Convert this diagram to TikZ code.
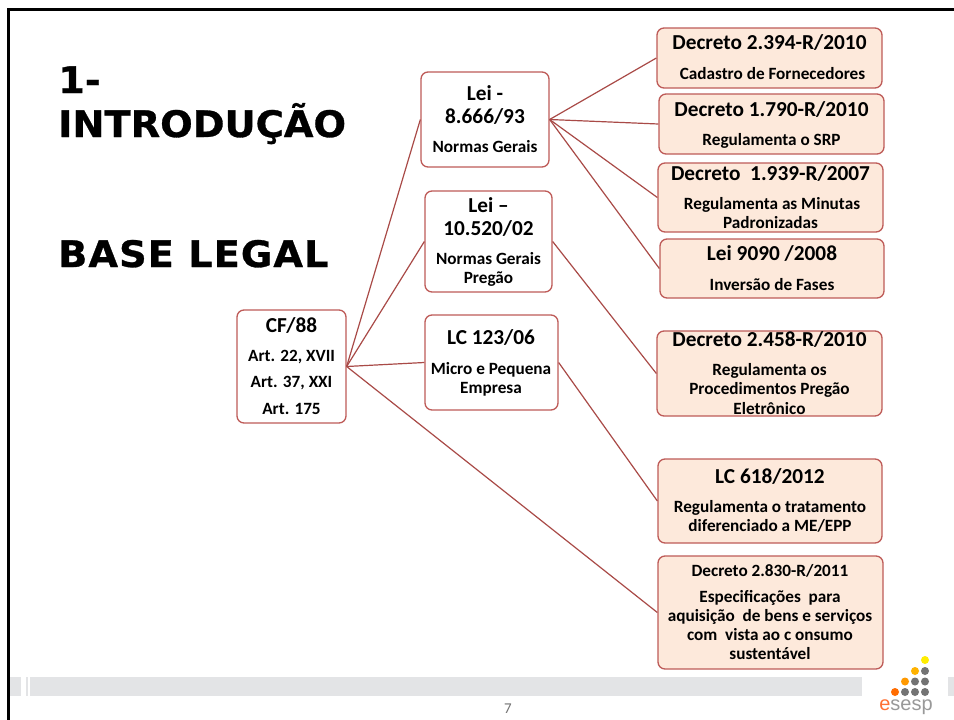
\documentclass[tikz,border=0pt]{standalone}
\usepackage{fontspec}
\setmainfont{Carlito}
\newfontfamily\titlefont[FakeStretch=1.05,FakeBold=0.8]{DejaVu Sans}
\newfontfamily\titlewide[FakeStretch=1.05,FakeBold=0.8,LetterSpace=2.8]{DejaVu Sans}
\newfontfamily\logofont{Liberation Sans}
\definecolor{boxline}{HTML}{BE5B58}
\definecolor{linkline}{HTML}{A94A47}
\definecolor{boxfill}{HTML}{FDE9DB}
\definecolor{barcol}{HTML}{E3E4E6}
\newcommand\Ln[4]{\vskip#1pt\hbox to 400pt{\hss\kern#3pt\kern#3pt\smash{\fontsize{#2}{#2}\selectfont\bfseries #4}\hss}}
\newcommand\Body[2]{\hbox to 0pt{\hss\vtop to 0pt{\hsize=400pt\offinterlineskip\vskip-\dimexpr#1pt/2\relax #2\vss}\hss}}
\tikzset{
  x=1pt,y=-1pt,
  lawbox/.style={draw=boxline,line width=1.3pt,rounded corners=7pt,fill=white,inner sep=0pt},
  decbox/.style={lawbox,fill=boxfill},
  link/.style={draw=linkline,line width=1.2pt},
  slidetitle/.style={inner sep=0pt,anchor=base west,font=\titlefont\bfseries\fontsize{36.5}{36.5}\selectfont,text=black},
  bar/.style={fill=barcol,draw=none},
  dotg/.style={fill=black!55,draw=none},
}
\begin{document}
\begin{tikzpicture}
\useasboundingbox (0,0) rectangle (954,720);
\fill[white] (0,0) rectangle (954,720);
\draw[black,line width=2.6pt] (8.5,720) -- (8.5,9.3) -- (954,9.3);
% footer
\fill[bar] (10,676.5) rectangle (21,695.5);
\fill[bar] (26,676.5) rectangle (28,695.5);
\fill[bar] (30,676.5) rectangle (862,695.5);
\fill[bar] (948,676.5) rectangle (954,695.5);
\node[inner sep=0pt,anchor=base,text=black!55,font=\fontsize{15}{15}\selectfont] (pg) at (508,713.5) {7};
% logo
\fill[yellow!95!orange] (925,660) circle (4);
\fill[orange!60!yellow] (915,671) circle (4);
\fill[dotg] (925,671) circle (4);
\fill[orange!80!yellow] (905,681.5) circle (4);
\fill[dotg] (915,681.5) circle (4);
\fill[dotg] (925,681.5) circle (4);
\fill[orange!85!red] (895,692) circle (4);
\fill[dotg] (905,692) circle (4);
\fill[dotg] (915,692) circle (4);
\fill[dotg] (925,692) circle (4);
\node[inner sep=0pt,anchor=base,font=\logofont\fontsize{20}{20}\selectfont,text=black!40] (logo) at (906,710) {\textcolor{orange!60!red!80}{e}sesp};
% title
\node[slidetitle] (t1) at (58,93) {1-};
\node[slidetitle] (t2) at (58,137) {INTRODUÇÃO};
\node[slidetitle,font=\titlewide\bfseries\fontsize{36.5}{36.5}\selectfont] (t3) at (58,267) {BASE LEGAL};
% boxes
\node[lawbox,minimum width=109pt,minimum height=113pt] (cf) at (291.5,366.5) {\Body{113}{
  \Ln{22}{21.3}{0}{CF/88}\Ln{29}{17.2}{0}{Art. 22, XVII}\Ln{26}{17.2}{0}{Art. 37, XXI}\Ln{27}{17.2}{0}{Art. 175}}};
\node[lawbox,minimum width=128pt,minimum height=95pt] (lei1) at (485,119.5) {\Body{95}{
  \Ln{28}{21.3}{0}{Lei -}\Ln{23}{21.3}{0}{8.666/93}\Ln{29}{17.2}{0}{Normas Gerais}}};
\node[lawbox,minimum width=127pt,minimum height=101pt] (lei2) at (488.5,241.5) {\Body{101}{
  \Ln{21}{21.3}{0}{Lei –}\Ln{23}{21.3}{0}{10.520/02}\Ln{29}{17.2}{0}{Normas Gerais}\Ln{19}{17.2}{0}{Pregão}}};
\node[lawbox,minimum width=133pt,minimum height=95pt] (lc) at (491.5,362.5) {\Body{95}{
  \Ln{29}{21.3}{-0.5}{LC 123/06}\Ln{30}{17.2}{-0.5}{Micro e Pequena}\Ln{19}{17.2}{-0.5}{Empresa}}};
\node[decbox,minimum width=225pt,minimum height=60pt] (d1) at (769.5,58) {\Body{60}{
  \Ln{21}{21.3}{0}{Decreto 2.394-R/2010}\Ln{30}{17.2}{3}{Cadastro de Fornecedores}}};
\node[decbox,minimum width=225pt,minimum height=60pt] (d2) at (771.5,124) {\Body{60}{
  \Ln{22}{21.3}{0}{Decreto 1.790-R/2010}\Ln{29}{17.2}{0}{Regulamenta o SRP}}};
\node[decbox,minimum width=225pt,minimum height=69pt] (d3) at (770.5,197.5) {\Body{69}{
  \Ln{17}{21.3}{0}{Decreto\ \ 1.939-R/2007}\Ln{29}{17.2}{1.5}{Regulamenta as Minutas}\Ln{19}{17.2}{0}{Padronizadas}}};
\node[decbox,minimum width=224pt,minimum height=59pt] (d4) at (772,268.5) {\Body{59}{
  \Ln{21}{21.3}{0}{Lei 9090 /2008}\Ln{30}{17.2}{0}{Inversão de Fases}}};
\node[decbox,minimum width=225pt,minimum height=85pt] (d5) at (769.5,373.5) {\Body{85}{
  \Ln{15}{21.3}{0}{Decreto 2.458-R/2010}\Ln{29}{17.2}{0}{Regulamenta os}\Ln{19}{17.2}{0}{Procedimentos Pregão}\Ln{20}{17.2}{0}{Eletrônico}}};
\node[decbox,minimum width=224pt,minimum height=84pt] (d6) at (770,501) {\Body{84}{
  \Ln{24}{21.3}{0}{LC 618/2012}\Ln{29}{17.2}{0}{Regulamenta o tratamento}\Ln{19}{17.2}{0}{diferenciado a ME/EPP}}};
\node[decbox,minimum width=225pt,minimum height=113pt] (d7) at (770.5,612.5) {\Body{113}{
  \Ln{20}{17.2}{-0.5}{Decreto 2.830-R/2011}\Ln{26}{17.2}{-0.5}{Especificações\ \ para}\Ln{19}{17.2}{-0.5}{aquisição\ \ de bens e serviços}\Ln{19}{17.2}{-0.5}{com\ \ vista ao c onsumo}\Ln{19}{17.2}{-0.5}{sustentável}}};
% connectors
\draw[link] (cf.east) -- (lei1.west);
\draw[link] (cf.east) -- (lei2.west);
\draw[link] (cf.east) -- (lc.west);
\draw[link] (cf.east) -- (d7.west);
\draw[link] (lei1.east) -- (d1.west);
\draw[link] (lei1.east) -- (d2.west);
\draw[link] (lei1.east) -- (d3.west);
\draw[link] (lei1.east) -- (d4.west);
\draw[link] (lei2.east) -- (d5.west);
\draw[link] (lc.east) -- (d6.west);
\end{tikzpicture}
\end{document}
